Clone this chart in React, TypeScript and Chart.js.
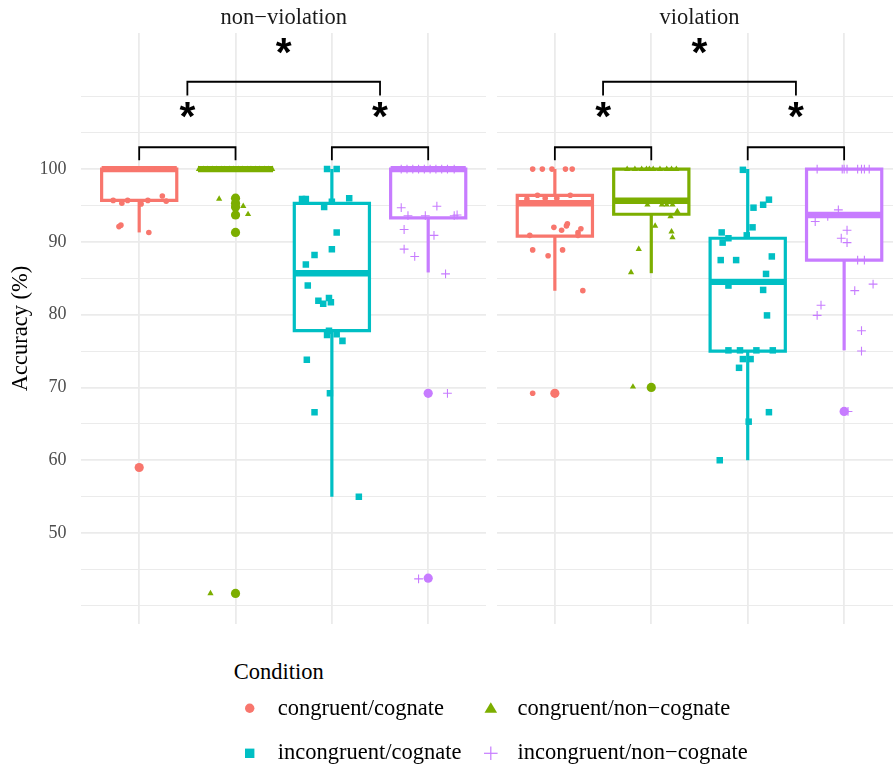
import React, { useEffect, useRef } from "react";
import { Chart, registerables } from "chart.js";

Chart.register(...registerables);

// ---------- labels ----------
const categories = [
  "congruent/cognate",
  "congruent/non\u2212cognate",
  "incongruent/cognate",
  "incongruent/non\u2212cognate",
];
const panelTitles = ["non\u2212violation", "violation"];
const groupColors = ["#F8766D", "#7CAE00", "#00BFC4", "#C77CFF"];
const groupShapes = ["circle", "triangle", "rect", "cross"];
const yGridValues = [40, 45, 50, 55, 60, 65, 70, 75, 80, 85, 90, 95, 100, 105, 110];
const yTickLabels = [50, 60, 70, 80, 90, 100];
const yTitle = "Accuracy (%)";
const legendTitle = "Condition";

// ---------- box statistics (non-violation) ----------
const nvLower = [91.3, 100, 55.0, 85.8];
const nvQ1 = [95.7, 100, 77.8, 93.3];
const nvMedian = [100, 100, 85.7, 100];
const nvQ3 = [100, 100, 95.3, 100];
const nvUpper = [100, 100, 100, 100];
const nvOutliers = [[59.0], [96.0, 95.3, 94.8, 93.7, 91.3, 41.7], [], [69.2, 43.8]];

// ---------- box statistics (violation) ----------
const vLower = [83.3, 85.7, 60.0, 75.1];
const vQ1 = [90.8, 93.8, 75.0, 87.5];
const vMedian = [95.3, 95.65, 84.5, 93.7];
const vQ3 = [96.4, 100, 90.5, 100];
const vUpper = [100, 100, 100, 100];
const vOutliers = [[69.2], [70.0], [], [66.7]];

// ---------- individual (jittered) points, non-violation ----------
const nvCongCogValues = [100, 100, 100, 100, 100, 100, 100, 100, 100, 100, 100, 100, 95.7, 95.3, 95.7, 95.2, 95.7, 96.3, 95.6, 92.3, 92.1, 91.3, 59.0];
const nvCongCogJitter = [-0.35, -0.29, -0.23, -0.17, -0.11, -0.05, 0.01, 0.07, 0.13, 0.19, 0.25, 0.31, -0.27, -0.18, -0.12, 0.02, 0.09, 0.24, 0.28, -0.19, -0.21, 0.1, 0.0];
const nvCongNonValues = [100, 100, 100, 100, 100, 100, 100, 100, 100, 100, 100, 100, 100, 100, 100, 100, 100, 100, 95.9, 94.9, 93.8, 91.3, 41.7];
const nvCongNonJitter = [-0.38, -0.33, -0.29, -0.24, -0.2, -0.15, -0.11, -0.06, -0.02, 0.03, 0.07, 0.12, 0.16, 0.21, 0.25, 0.3, 0.34, 0.38, -0.17, 0.08, 0.13, 0.0, -0.26];
const nvIncCogValues = [100, 100, 95.9, 95.9, 94.8, 95.5, 96.0, 91.3, 89.0, 88.2, 86.9, 84.0, 81.9, 81.5, 82.3, 81.7, 77.8, 77.2, 77.3, 76.4, 73.8, 69.2, 66.6, 55.0];
const nvIncCogJitter = [-0.05, 0.05, -0.31, -0.27, -0.08, 0.0, 0.18, 0.05, 0.0, -0.18, -0.27, -0.25, -0.14, -0.09, -0.03, -0.01, -0.03, -0.05, 0.05, 0.11, -0.26, -0.02, -0.18, 0.28];
const nvIncNonValues = [100, 100, 100, 100, 100, 100, 100, 100, 100, 100, 94.7, 93.6, 93.6, 94.9, 93.6, 93.7, 91.7, 90.9, 89.0, 88.0, 85.6, 69.2, 43.7];
const nvIncNonJitter = [-0.28, -0.22, -0.16, -0.1, -0.04, 0.02, 0.08, 0.14, 0.2, 0.27, -0.28, -0.21, -0.03, 0.09, 0.27, 0.3, -0.25, 0.06, -0.25, -0.14, 0.18, 0.2, -0.1];

// ---------- individual (jittered) points, violation ----------
const vCongCogValues = [100, 100, 100, 100, 100, 96.4, 96.0, 96.4, 95.9, 96.0, 92.0, 91.6, 92.5, 92.2, 91.8, 91.3, 90.9, 90.9, 88.9, 88.1, 88.9, 83.3, 69.2];
const vCongCogJitter = [-0.23, -0.13, -0.03, 0.11, 0.18, -0.18, 0.02, 0.16, -0.29, -0.1, -0.01, 0.07, 0.13, 0.12, 0.27, 0.24, -0.26, 0.24, -0.23, -0.07, 0.08, 0.29, -0.23];
const vCongNonValues = [100, 100, 100, 100, 100, 100, 100, 100, 100, 100, 95.1, 95.1, 95.1, 95.1, 94.2, 93.5, 92.2, 91.4, 90.6, 89.0, 85.8, 70.1];
const vCongNonJitter = [-0.25, -0.17, -0.1, -0.05, -0.02, 0.02, 0.09, 0.16, 0.21, 0.26, -0.04, 0.11, 0.16, 0.22, 0.27, 0.2, 0.04, 0.21, 0.22, -0.13, -0.21, -0.19];
const vIncCogValues = [99.9, 95.8, 95.1, 94.7, 92.0, 90.9, 91.3, 89.9, 90.5, 87.5, 87.5, 88.0, 85.6, 84.0, 83.4, 79.9, 75.1, 75.1, 75.1, 75.1, 73.9, 73.9, 72.7, 66.6, 65.3, 60.0];
const vIncCogJitter = [-0.05, 0.22, 0.16, 0.06, 0.05, -0.01, -0.27, -0.26, -0.2, -0.28, -0.12, 0.25, 0.19, -0.2, 0.16, 0.2, -0.2, -0.08, 0.09, 0.26, -0.05, 0.03, -0.09, 0.22, 0.01, -0.29];
const vIncNonValues = [100, 100, 100, 100, 100, 100, 100, 100, 93.5, 94.4, 92.8, 91.6, 90.5, 89.9, 87.5, 87.5, 84.2, 83.3, 81.3, 79.9, 77.8, 75.0, 66.7];
const vIncNonJitter = [-0.28, -0.02, 0.0, 0.03, 0.14, 0.18, 0.21, 0.26, -0.17, -0.06, -0.3, 0.03, -0.03, 0.03, 0.14, 0.21, 0.3, 0.11, -0.24, -0.28, 0.18, 0.18, 0.04];

// ---------- significance annotations ----------
const bracketFrom = [1, 3, 1.5];
const bracketTo = [2, 4, 3.5];
const bracketLevel = [103.0, 103.0, 112.0];
const bracketTipEnd = [101.2, 101.2, 110.1];
const starX = [1.5, 3.5, 2.5];
const starY = [108.1, 108.1, 116.9];
const starText = ["*", "*", "*"];

const SERIF = '"Liberation Serif", "Times New Roman", serif';
const SANS = '"Liberation Sans", Arial, sans-serif';

const panels = [
  {
    lower: nvLower, q1: nvQ1, median: nvMedian, q3: nvQ3, upper: nvUpper, outliers: nvOutliers,
    values: [nvCongCogValues, nvCongNonValues, nvIncCogValues, nvIncNonValues],
    jitter: [nvCongCogJitter, nvCongNonJitter, nvIncCogJitter, nvIncNonJitter],
  },
  {
    lower: vLower, q1: vQ1, median: vMedian, q3: vQ3, upper: vUpper, outliers: vOutliers,
    values: [vCongCogValues, vCongNonValues, vIncCogValues, vIncNonValues],
    jitter: [vCongCogJitter, vCongNonJitter, vIncCogJitter, vIncNonJitter],
  },
];

const pointRadii = [2.8, 3.6, 4.6, 4.4];
const BOX_HALF = 0.39;

const boxPlugin = {
  id: "boxes",
  beforeDatasetsDraw(chart: any, _args: any, opts: any) {
    const p = opts.panel;
    if (!p) return;
    const { ctx } = chart;
    const x = chart.scales.x;
    const y = chart.scales.y;
    ctx.save();
    for (let i = 0; i < categories.length; i++) {
      const c = i + 1;
      const xl = x.getPixelForValue(c - BOX_HALF);
      const xr = x.getPixelForValue(c + BOX_HALF);
      const xc = x.getPixelForValue(c);
      const yLow = y.getPixelForValue(p.lower[i]);
      const yQ1 = y.getPixelForValue(p.q1[i]);
      const yMed = y.getPixelForValue(p.median[i]);
      const yQ3 = y.getPixelForValue(p.q3[i]);
      const yUp = y.getPixelForValue(p.upper[i]);
      ctx.strokeStyle = groupColors[i];
      ctx.lineCap = "butt";
      ctx.lineJoin = "miter";
      ctx.lineWidth = 3.2;
      ctx.beginPath();
      ctx.moveTo(xc, yUp);
      ctx.lineTo(xc, yQ3);
      ctx.moveTo(xc, yQ1);
      ctx.lineTo(xc, yLow);
      ctx.stroke();
      ctx.fillStyle = "#FFFFFF";
      ctx.beginPath();
      ctx.rect(xl, yQ3, xr - xl, yQ1 - yQ3);
      ctx.fill();
      ctx.stroke();
      ctx.lineWidth = 6.4;
      ctx.beginPath();
      ctx.moveTo(xl, yMed);
      ctx.lineTo(xr, yMed);
      ctx.stroke();
    }
    ctx.restore();
  },
  afterDatasetsDraw(chart: any) {
    const { ctx } = chart;
    const x = chart.scales.x;
    const y = chart.scales.y;
    ctx.save();
    ctx.strokeStyle = "#000000";
    ctx.lineWidth = 1.8;
    ctx.lineCap = "butt";
    ctx.lineJoin = "miter";
    for (let k = 0; k < bracketFrom.length; k++) {
      const x1 = x.getPixelForValue(bracketFrom[k]);
      const x2 = x.getPixelForValue(bracketTo[k]);
      const yl = y.getPixelForValue(bracketLevel[k]);
      const yt = y.getPixelForValue(bracketTipEnd[k]);
      ctx.beginPath();
      ctx.moveTo(x1, yt);
      ctx.lineTo(x1, yl);
      ctx.lineTo(x2, yl);
      ctx.lineTo(x2, yt);
      ctx.stroke();
    }
    // asterisks sized to a fixed glyph height
    ctx.font = `bold 100px ${SANS}`;
    const m0 = ctx.measureText("*");
    const h0 = (m0.actualBoundingBoxAscent + m0.actualBoundingBoxDescent) || 30;
    const size = (100 * 15.5) / h0;
    ctx.font = `bold ${size}px ${SANS}`;
    ctx.fillStyle = "#000000";
    ctx.textAlign = "center";
    ctx.textBaseline = "alphabetic";
    for (let k = 0; k < starX.length; k++) {
      const m = ctx.measureText(starText[k]);
      const cx = x.getPixelForValue(starX[k]);
      const cy = y.getPixelForValue(starY[k]);
      ctx.fillText(starText[k], cx, cy + (m.actualBoundingBoxAscent - m.actualBoundingBoxDescent) / 2);
    }
    ctx.restore();
  },
};

function buildConfig(panelIndex: number, showY: boolean) {
  const p = panels[panelIndex];
  const datasets: any[] = [];
  for (let i = 0; i < categories.length; i++) {
    datasets.push({
      label: categories[i],
      data: p.values[i].map((v: number, k: number) => ({ x: i + 1 + p.jitter[i][k], y: v })),
      pointStyle: groupShapes[i],
      pointRadius: pointRadii[i],
      pointHoverRadius: pointRadii[i],
      backgroundColor: groupColors[i],
      borderColor: groupColors[i],
      borderWidth: groupShapes[i] === "cross" ? 1.1 : 0,
      order: 2,
    });
  }
  for (let i = 0; i < categories.length; i++) {
    datasets.push({
      label: categories[i] + " outliers",
      data: p.outliers[i].map((v: number) => ({ x: i + 1, y: v })),
      pointStyle: "circle",
      pointRadius: 4.6,
      pointHoverRadius: 4.6,
      backgroundColor: groupColors[i],
      borderWidth: 0,
      order: 1,
    });
  }
  return {
    type: "scatter",
    data: { datasets },
    plugins: [boxPlugin],
    options: {
      responsive: false,
      animation: false,
      events: [],
      devicePixelRatio: 1,
      layout: { autoPadding: false, padding: { left: 0, right: showY ? 5 : 0, top: 33, bottom: 16 } },
      plugins: {
        legend: { display: false },
        tooltip: { enabled: false },
        boxes: { panel: p },
      },
      scales: {
        x: {
          type: "linear",
          min: 0.4,
          max: 4.6,
          afterBuildTicks: (s: any) => {
            s.ticks = [1, 2, 3, 4].map((v) => ({ value: v }));
          },
          ticks: { display: false },
          grid: { color: "#EBEBEB", lineWidth: 1.8, drawTicks: false },
          border: { display: false },
          afterFit: (s: any) => {
            s.height = 0;
            s.paddingLeft = 0;
            s.paddingRight = 0;
          },
        },
        y: {
          type: "linear",
          min: 37.5,
          max: 118.7,
          afterBuildTicks: (s: any) => {
            s.ticks = yGridValues.map((v) => ({ value: v }));
          },
          ticks: {
            display: showY,
            autoSkip: false,
            padding: 15,
            color: "#4D4D4D",
            font: { family: SERIF, size: 18 },
            callback: (v: any) => (yTickLabels.includes(Number(v)) ? String(v) : ""),
          },
          grid: {
            color: "#EBEBEB",
            lineWidth: (c: any) => (c.tick && yTickLabels.includes(c.tick.value) ? 1.8 : 1.0),
            drawTicks: false,
          },
          border: { display: false },
          title: {
            display: showY,
            text: yTitle,
            color: "#000000",
            font: { family: SERIF, size: 22.5 },
            padding: { top: 8, bottom: 0 },
          },
          afterFit: (s: any) => {
            s.width = showY ? 81.4 : 0;
            s.paddingTop = 0;
            s.paddingBottom = 0;
          },
        },
      },
    },
  };
}

function LegendSymbol({ shape, color, cx, cy }: { shape: string; color: string; cx: number; cy: number }) {
  if (shape === "circle") return <circle cx={cx} cy={cy} r={4.7} fill={color} />;
  if (shape === "triangle")
    return <polygon points={`${cx},${cy - 6} ${cx + 6.3},${cy + 4.5} ${cx - 6.3},${cy + 4.5}`} fill={color} />;
  if (shape === "rect") return <rect x={cx - 4.7} y={cy - 4.7} width={9.4} height={9.4} fill={color} />;
  return (
    <g stroke={color} strokeWidth={1.2}>
      <line x1={cx - 6.8} y1={cy} x2={cx + 6.8} y2={cy} />
      <line x1={cx} y1={cy - 6.8} x2={cx} y2={cy + 6.8} />
    </g>
  );
}

export default function App() {
  const leftRef = useRef<HTMLCanvasElement | null>(null);
  const rightRef = useRef<HTMLCanvasElement | null>(null);

  useEffect(() => {
    const charts: Chart[] = [];
    if (leftRef.current) charts.push(new Chart(leftRef.current, buildConfig(0, true) as any));
    if (rightRef.current) charts.push(new Chart(rightRef.current, buildConfig(1, false) as any));
    return () => charts.forEach((c) => c.destroy());
  }, []);

  const stripCenters = [283.7, 699.5];
  const legendPos = [
    { sx: 249.7, sy: 708.3, tx: 277.7, baseline: 716 },
    { sx: 490.8, sy: 708.3, tx: 517.6, baseline: 716 },
    { sx: 249.7, sy: 753.3, tx: 277.7, baseline: 760 },
    { sx: 490.8, sy: 753.3, tx: 517.6, baseline: 760 },
  ];
  const asc = 18.84; // baseline offset for 22.5px Liberation Serif with line-height 1

  return (
    <div
      style={{
        position: "absolute",
        left: 0,
        top: 0,
        width: 893,
        height: 767,
        overflow: "hidden",
        background: "#FFFFFF",
        fontFamily: SERIF,
      }}
    >
      <canvas ref={leftRef} width={491} height={640} style={{ position: "absolute", left: 0, top: 0 }} />
      <canvas ref={rightRef} width={405} height={640} style={{ position: "absolute", left: 497, top: 0 }} />
      {panelTitles.map((t, i) => (
        <div
          key={t}
          style={{
            position: "absolute",
            left: stripCenters[i] - 200,
            width: 400,
            top: 25 - asc,
            textAlign: "center",
            fontSize: 22.5,
            lineHeight: "22.5px",
            color: "#1A1A1A",
            whiteSpace: "nowrap",
          }}
        >
          {t}
        </div>
      ))}
      <div
        style={{
          position: "absolute",
          left: 233.7,
          top: 680 - asc,
          fontSize: 22.5,
          lineHeight: "22.5px",
          color: "#000000",
          whiteSpace: "nowrap",
        }}
      >
        {legendTitle}
      </div>
      <svg width={893} height={767} style={{ position: "absolute", left: 0, top: 0, pointerEvents: "none" }}>
        {categories.map((c, i) => (
          <LegendSymbol key={c} shape={groupShapes[i]} color={groupColors[i]} cx={legendPos[i].sx} cy={legendPos[i].sy} />
        ))}
      </svg>
      {categories.map((c, i) => (
        <div
          key={c}
          style={{
            position: "absolute",
            left: legendPos[i].tx,
            top: legendPos[i].baseline - asc,
            fontSize: 22.5,
            lineHeight: "22.5px",
            color: "#000000",
            whiteSpace: "nowrap",
          }}
        >
          {c}
        </div>
      ))}
    </div>
  );
}
